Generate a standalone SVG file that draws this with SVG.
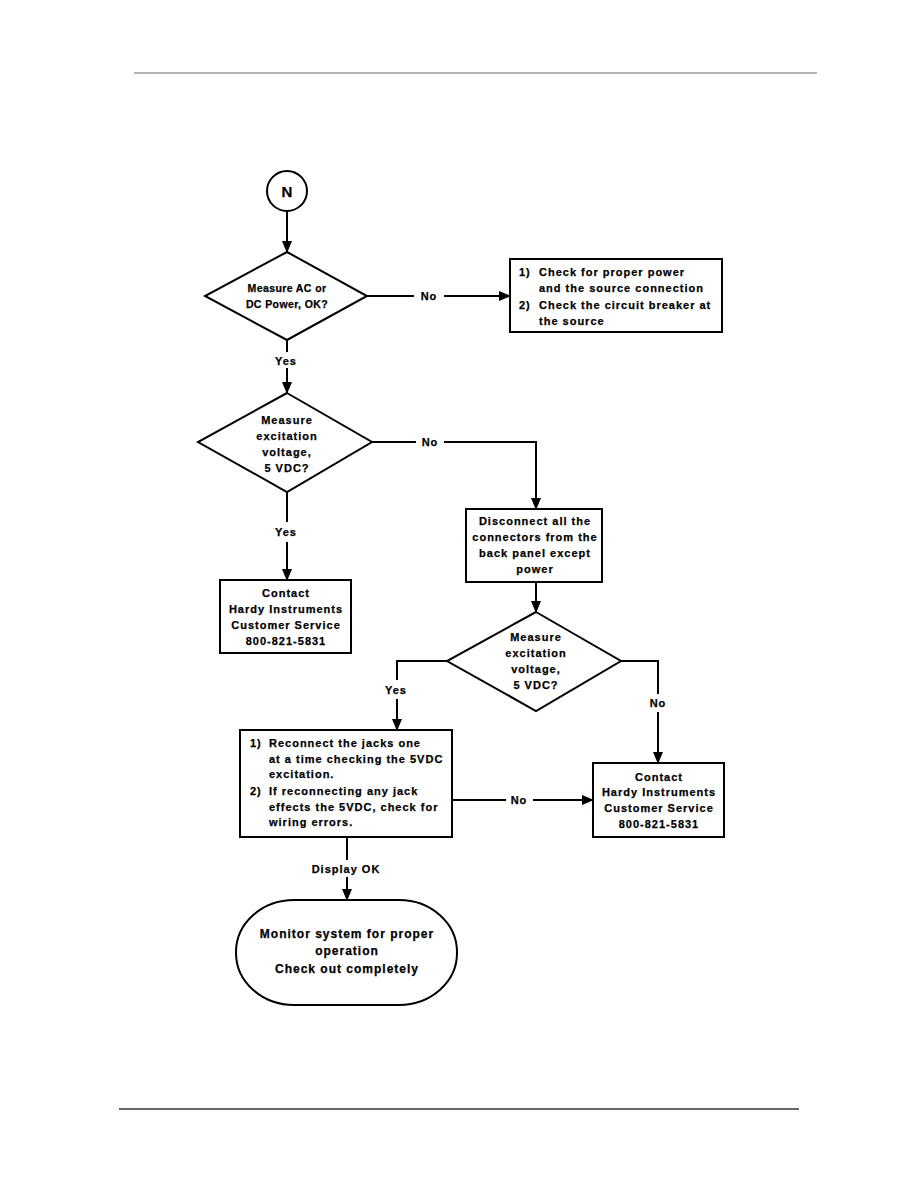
<svg xmlns="http://www.w3.org/2000/svg" width="918" height="1188" viewBox="0 0 918 1188">
<style>
.s{fill:#fff;stroke:#000;stroke-width:2}
.c{fill:none;stroke:#000;stroke-width:2}
text{font-family:"Liberation Sans",Arial,sans-serif;font-weight:bold;font-size:11px;letter-spacing:1px;fill:#000;stroke:#000;stroke-width:0.25}
.m{text-anchor:middle}
.d1{font-size:10.5px;letter-spacing:0.4px}
.t{font-size:12px}
</style>
<defs>
<marker id="ah" markerUnits="userSpaceOnUse" markerWidth="12" markerHeight="10" refX="11" refY="5" orient="auto">
<path d="M0,0 L12,5 L0,10 z" fill="#000"/>
</marker>
</defs>
<rect width="918" height="1188" fill="#fff"/>
<line x1="134" y1="73" x2="817" y2="73" stroke="#666" stroke-width="1.2"/>
<line x1="119" y1="1109" x2="799" y2="1109" stroke="#666" stroke-width="2"/>

<g id="connectors">
<path class="c" d="M287,211 V252" marker-end="url(#ah)"/>
<path class="c" d="M367,296 H414"/><path class="c" d="M444,296 H510" marker-end="url(#ah)"/>
<text class="m" x="429" y="300">No</text>
<path class="c" d="M287,340 V352"/><path class="c" d="M287,368 V393" marker-end="url(#ah)"/>
<text class="m" x="286" y="365">Yes</text>
<path class="c" d="M372,442 H416"/><path class="c" d="M444,442 H536 V509" marker-end="url(#ah)"/>
<text class="m" x="430" y="446">No</text>
<path class="c" d="M287,492 V522"/><path class="c" d="M287,542 V580" marker-end="url(#ah)"/>
<text class="m" x="286" y="536">Yes</text>
<path class="c" d="M536,582 V612" marker-end="url(#ah)"/>
<path class="c" d="M447,661 H397 V680"/><path class="c" d="M397,699 V730" marker-end="url(#ah)"/>
<text class="m" x="396" y="694">Yes</text>
<path class="c" d="M621,661 H658 V694"/><path class="c" d="M658,712 V763" marker-end="url(#ah)"/>
<text class="m" x="658" y="707">No</text>
<path class="c" d="M452,800 H506"/><path class="c" d="M533,800 H593" marker-end="url(#ah)"/>
<text class="m" x="519" y="804">No</text>
<path class="c" d="M347,837 V860"/><path class="c" d="M347,877 V900" marker-end="url(#ah)"/>
<text class="m" x="346" y="873">Display OK</text>
</g>

<g id="start">
<circle class="s" cx="287" cy="191" r="20"/>
<text class="m" x="287" y="197" style="font-size:15px;letter-spacing:0">N</text>
</g>

<g id="d1">
<polygon class="s" points="287,252 367,296 287,340 205,296"/>
<text class="m d1" x="287" y="292">Measure AC or</text>
<text class="m d1" x="287" y="308">DC Power, OK?</text>
</g>

<g id="b1">
<rect class="s" x="510" y="259" width="212" height="73"/>
<text x="519" y="276">1)</text><text x="539" y="276">Check for proper power</text>
<text x="539" y="292">and the source connection</text>
<text x="519" y="309">2)</text><text x="539" y="309">Check the circuit breaker at</text>
<text x="539" y="325">the source</text>
</g>

<g id="d2">
<polygon class="s" points="287,393 372,442 287,492 198,442"/>
<text class="m" x="287" y="424">Measure</text>
<text class="m" x="287" y="440">excitation</text>
<text class="m" x="287" y="456">voltage,</text>
<text class="m" x="287" y="472">5 VDC?</text>
</g>

<g id="contact1">
<rect class="s" x="220" y="580" width="131" height="73"/>
<text class="m" x="286" y="597">Contact</text>
<text class="m" x="286" y="613">Hardy Instruments</text>
<text class="m" x="286" y="629">Customer Service</text>
<text class="m" x="286" y="645">800-821-5831</text>
</g>

<g id="disconnect">
<rect class="s" x="466" y="509" width="136" height="73"/>
<text class="m" x="535" y="525">Disconnect all the</text>
<text class="m" x="535" y="541">connectors from the</text>
<text class="m" x="535" y="557">back panel except</text>
<text class="m" x="535" y="573">power</text>
</g>

<g id="d3">
<polygon class="s" points="536,612 621,661 536,711 447,661"/>
<text class="m" x="536" y="641">Measure</text>
<text class="m" x="536" y="657">excitation</text>
<text class="m" x="536" y="673">voltage,</text>
<text class="m" x="536" y="689">5 VDC?</text>
</g>

<g id="reconnect">
<rect class="s" x="240" y="730" width="212" height="107"/>
<text x="250" y="747">1)</text><text x="269" y="747">Reconnect the jacks one</text>
<text x="269" y="763">at a time checking the 5VDC</text>
<text x="269" y="778">excitation.</text>
<text x="250" y="795">2)</text><text x="269" y="795">If reconnecting any jack</text>
<text x="269" y="811">effects the 5VDC, check for</text>
<text x="269" y="826">wiring errors.</text>
</g>

<g id="contact2">
<rect class="s" x="593" y="763" width="131" height="74"/>
<text class="m" x="659" y="781">Contact</text>
<text class="m" x="659" y="796">Hardy Instruments</text>
<text class="m" x="659" y="812">Customer Service</text>
<text class="m" x="659" y="828">800-821-5831</text>
</g>

<g id="terminal">
<rect class="s" x="236" y="900" width="221" height="105" rx="58" ry="52"/>
<text class="m t" x="347" y="938">Monitor system for proper</text>
<text class="m t" x="347" y="955">operation</text>
<text class="m t" x="347" y="973">Check out completely</text>
</g>
</svg>
